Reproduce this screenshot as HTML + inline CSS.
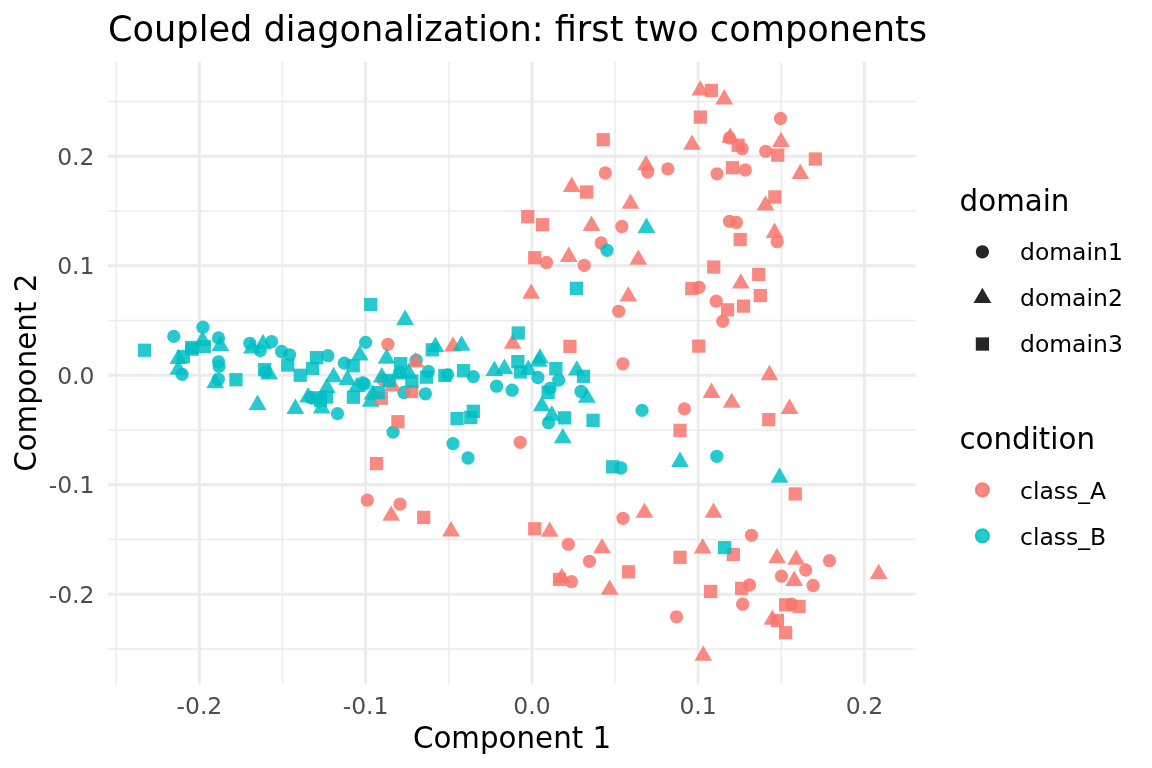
<!DOCTYPE html>
<html lang="en"><head><meta charset="utf-8"><title>Coupled diagonalization: first two components</title>
<style>html,body{margin:0;padding:0;background:#fff;}body{width:1152px;height:768px;overflow:hidden;}svg{display:block;}text{font-family:"DejaVu Sans", "Liberation Sans", sans-serif;}</style></head><body>
<svg width="1152" height="768" viewBox="0 0 1152 768">
<rect width="1152" height="768" fill="#ffffff"/>
<g><line x1="108.00" x2="915.60" y1="649.00" y2="649.00" stroke="#ebebeb" stroke-width="1.42"/><line x1="108.00" x2="915.60" y1="539.50" y2="539.50" stroke="#ebebeb" stroke-width="1.42"/><line x1="108.00" x2="915.60" y1="430.00" y2="430.00" stroke="#ebebeb" stroke-width="1.42"/><line x1="108.00" x2="915.60" y1="320.50" y2="320.50" stroke="#ebebeb" stroke-width="1.42"/><line x1="108.00" x2="915.60" y1="211.00" y2="211.00" stroke="#ebebeb" stroke-width="1.42"/><line x1="108.00" x2="915.60" y1="101.50" y2="101.50" stroke="#ebebeb" stroke-width="1.42"/><line x1="116.27" x2="116.27" y1="62.00" y2="683.80" stroke="#ebebeb" stroke-width="1.42"/><line x1="282.52" x2="282.52" y1="62.00" y2="683.80" stroke="#ebebeb" stroke-width="1.42"/><line x1="448.77" x2="448.77" y1="62.00" y2="683.80" stroke="#ebebeb" stroke-width="1.42"/><line x1="615.02" x2="615.02" y1="62.00" y2="683.80" stroke="#ebebeb" stroke-width="1.42"/><line x1="781.27" x2="781.27" y1="62.00" y2="683.80" stroke="#ebebeb" stroke-width="1.42"/><line x1="108.00" x2="915.60" y1="594.25" y2="594.25" stroke="#ebebeb" stroke-width="2.85"/><line x1="108.00" x2="915.60" y1="484.75" y2="484.75" stroke="#ebebeb" stroke-width="2.85"/><line x1="108.00" x2="915.60" y1="375.25" y2="375.25" stroke="#ebebeb" stroke-width="2.85"/><line x1="108.00" x2="915.60" y1="265.75" y2="265.75" stroke="#ebebeb" stroke-width="2.85"/><line x1="108.00" x2="915.60" y1="156.25" y2="156.25" stroke="#ebebeb" stroke-width="2.85"/><line x1="199.40" x2="199.40" y1="62.00" y2="683.80" stroke="#ebebeb" stroke-width="2.85"/><line x1="365.65" x2="365.65" y1="62.00" y2="683.80" stroke="#ebebeb" stroke-width="2.85"/><line x1="531.90" x2="531.90" y1="62.00" y2="683.80" stroke="#ebebeb" stroke-width="2.85"/><line x1="698.15" x2="698.15" y1="62.00" y2="683.80" stroke="#ebebeb" stroke-width="2.85"/><line x1="864.40" x2="864.40" y1="62.00" y2="683.80" stroke="#ebebeb" stroke-width="2.85"/></g>
<g><circle cx="780.5" cy="118.5" r="6.63" fill="#F8766D" fill-opacity="0.85"/><circle cx="729.5" cy="138.0" r="6.63" fill="#F8766D" fill-opacity="0.85"/><circle cx="742.2" cy="148.7" r="6.63" fill="#F8766D" fill-opacity="0.85"/><circle cx="765.7" cy="151.3" r="6.63" fill="#F8766D" fill-opacity="0.85"/><circle cx="647.7" cy="172.1" r="6.63" fill="#F8766D" fill-opacity="0.85"/><circle cx="667.9" cy="168.9" r="6.63" fill="#F8766D" fill-opacity="0.85"/><circle cx="717.0" cy="173.8" r="6.63" fill="#F8766D" fill-opacity="0.85"/><circle cx="745.3" cy="170.0" r="6.63" fill="#F8766D" fill-opacity="0.85"/><circle cx="605.3" cy="173.0" r="6.63" fill="#F8766D" fill-opacity="0.85"/><circle cx="621.8" cy="226.5" r="6.63" fill="#F8766D" fill-opacity="0.85"/><circle cx="601.2" cy="243.0" r="6.63" fill="#F8766D" fill-opacity="0.85"/><circle cx="546.5" cy="262.5" r="6.63" fill="#F8766D" fill-opacity="0.85"/><circle cx="584.2" cy="265.3" r="6.63" fill="#F8766D" fill-opacity="0.85"/><circle cx="618.7" cy="311.3" r="6.63" fill="#F8766D" fill-opacity="0.85"/><circle cx="729.5" cy="221.3" r="6.63" fill="#F8766D" fill-opacity="0.85"/><circle cx="736.5" cy="222.5" r="6.63" fill="#F8766D" fill-opacity="0.85"/><circle cx="777.2" cy="241.7" r="6.63" fill="#F8766D" fill-opacity="0.85"/><circle cx="699.0" cy="287.3" r="6.63" fill="#F8766D" fill-opacity="0.85"/><circle cx="716.2" cy="301.2" r="6.63" fill="#F8766D" fill-opacity="0.85"/><circle cx="722.8" cy="321.3" r="6.63" fill="#F8766D" fill-opacity="0.85"/><circle cx="684.4" cy="408.9" r="6.63" fill="#F8766D" fill-opacity="0.85"/><circle cx="622.9" cy="363.8" r="6.63" fill="#F8766D" fill-opacity="0.85"/><circle cx="751.5" cy="535.3" r="6.63" fill="#F8766D" fill-opacity="0.85"/><circle cx="829.5" cy="560.7" r="6.63" fill="#F8766D" fill-opacity="0.85"/><circle cx="805.7" cy="570.0" r="6.63" fill="#F8766D" fill-opacity="0.85"/><circle cx="781.5" cy="576.2" r="6.63" fill="#F8766D" fill-opacity="0.85"/><circle cx="813.1" cy="585.5" r="6.63" fill="#F8766D" fill-opacity="0.85"/><circle cx="749.5" cy="585.0" r="6.63" fill="#F8766D" fill-opacity="0.85"/><circle cx="742.7" cy="604.2" r="6.63" fill="#F8766D" fill-opacity="0.85"/><circle cx="791.7" cy="604.2" r="6.63" fill="#F8766D" fill-opacity="0.85"/><circle cx="676.5" cy="616.8" r="6.63" fill="#F8766D" fill-opacity="0.85"/><circle cx="623.0" cy="518.3" r="6.63" fill="#F8766D" fill-opacity="0.85"/><circle cx="568.3" cy="544.3" r="6.63" fill="#F8766D" fill-opacity="0.85"/><circle cx="589.5" cy="561.3" r="6.63" fill="#F8766D" fill-opacity="0.85"/><circle cx="571.5" cy="581.7" r="6.63" fill="#F8766D" fill-opacity="0.85"/><circle cx="520.2" cy="442.3" r="6.63" fill="#F8766D" fill-opacity="0.85"/><circle cx="367.3" cy="500.2" r="6.63" fill="#F8766D" fill-opacity="0.85"/><circle cx="400.0" cy="504.2" r="6.63" fill="#F8766D" fill-opacity="0.85"/><circle cx="387.9" cy="344.3" r="6.63" fill="#F8766D" fill-opacity="0.85"/><circle cx="383.1" cy="379.8" r="6.63" fill="#F8766D" fill-opacity="0.85"/><circle cx="607.0" cy="250.3" r="6.63" fill="#00BFC4" fill-opacity="0.85"/><circle cx="716.8" cy="456.3" r="6.63" fill="#00BFC4" fill-opacity="0.85"/><circle cx="393.1" cy="432.1" r="6.63" fill="#00BFC4" fill-opacity="0.85"/><circle cx="453.0" cy="443.6" r="6.63" fill="#00BFC4" fill-opacity="0.85"/><circle cx="468.0" cy="458.0" r="6.63" fill="#00BFC4" fill-opacity="0.85"/><circle cx="620.9" cy="468.0" r="6.63" fill="#00BFC4" fill-opacity="0.85"/><circle cx="642.0" cy="410.4" r="6.63" fill="#00BFC4" fill-opacity="0.85"/><circle cx="173.8" cy="336.4" r="6.63" fill="#00BFC4" fill-opacity="0.85"/><circle cx="202.9" cy="327.2" r="6.63" fill="#00BFC4" fill-opacity="0.85"/><circle cx="182.1" cy="374.3" r="6.63" fill="#00BFC4" fill-opacity="0.85"/><circle cx="218.5" cy="337.9" r="6.63" fill="#00BFC4" fill-opacity="0.85"/><circle cx="218.5" cy="361.8" r="6.63" fill="#00BFC4" fill-opacity="0.85"/><circle cx="219.1" cy="366.4" r="6.63" fill="#00BFC4" fill-opacity="0.85"/><circle cx="218.3" cy="379.3" r="6.63" fill="#00BFC4" fill-opacity="0.85"/><circle cx="249.8" cy="343.3" r="6.63" fill="#00BFC4" fill-opacity="0.85"/><circle cx="260.2" cy="350.6" r="6.63" fill="#00BFC4" fill-opacity="0.85"/><circle cx="271.7" cy="341.6" r="6.63" fill="#00BFC4" fill-opacity="0.85"/><circle cx="281.6" cy="351.5" r="6.63" fill="#00BFC4" fill-opacity="0.85"/><circle cx="289.6" cy="354.8" r="6.63" fill="#00BFC4" fill-opacity="0.85"/><circle cx="327.9" cy="355.7" r="6.63" fill="#00BFC4" fill-opacity="0.85"/><circle cx="344.3" cy="363.1" r="6.63" fill="#00BFC4" fill-opacity="0.85"/><circle cx="265.6" cy="372.2" r="6.63" fill="#00BFC4" fill-opacity="0.85"/><circle cx="310.8" cy="397.7" r="6.63" fill="#00BFC4" fill-opacity="0.85"/><circle cx="337.5" cy="413.6" r="6.63" fill="#00BFC4" fill-opacity="0.85"/><circle cx="365.6" cy="342.4" r="6.63" fill="#00BFC4" fill-opacity="0.85"/><circle cx="362.6" cy="383.0" r="6.63" fill="#00BFC4" fill-opacity="0.85"/><circle cx="364.4" cy="384.0" r="6.63" fill="#00BFC4" fill-opacity="0.85"/><circle cx="416.2" cy="360.2" r="6.63" fill="#00BFC4" fill-opacity="0.85"/><circle cx="428.4" cy="371.5" r="6.63" fill="#00BFC4" fill-opacity="0.85"/><circle cx="447.6" cy="374.8" r="6.63" fill="#00BFC4" fill-opacity="0.85"/><circle cx="425.4" cy="393.8" r="6.63" fill="#00BFC4" fill-opacity="0.85"/><circle cx="403.9" cy="392.5" r="6.63" fill="#00BFC4" fill-opacity="0.85"/><circle cx="399.8" cy="372.2" r="6.63" fill="#00BFC4" fill-opacity="0.85"/><circle cx="473.3" cy="376.6" r="6.63" fill="#00BFC4" fill-opacity="0.85"/><circle cx="537.9" cy="377.5" r="6.63" fill="#00BFC4" fill-opacity="0.85"/><circle cx="558.7" cy="380.1" r="6.63" fill="#00BFC4" fill-opacity="0.85"/><circle cx="550.1" cy="388.3" r="6.63" fill="#00BFC4" fill-opacity="0.85"/><circle cx="496.6" cy="386.2" r="6.63" fill="#00BFC4" fill-opacity="0.85"/><circle cx="512.1" cy="390.2" r="6.63" fill="#00BFC4" fill-opacity="0.85"/><circle cx="581.0" cy="391.5" r="6.63" fill="#00BFC4" fill-opacity="0.85"/><circle cx="548.5" cy="422.7" r="6.63" fill="#00BFC4" fill-opacity="0.85"/><polygon points="700.3,80.2 709.2,95.6 691.4,95.6" fill="#F8766D" fill-opacity="0.85"/><polygon points="724.2,89.0 733.1,104.4 715.3,104.4" fill="#F8766D" fill-opacity="0.85"/><polygon points="692.0,134.4 700.9,149.8 683.1,149.8" fill="#F8766D" fill-opacity="0.85"/><polygon points="730.2,127.4 739.1,142.8 721.3,142.8" fill="#F8766D" fill-opacity="0.85"/><polygon points="781.0,131.7 789.9,147.1 772.1,147.1" fill="#F8766D" fill-opacity="0.85"/><polygon points="800.3,163.5 809.2,178.9 791.4,178.9" fill="#F8766D" fill-opacity="0.85"/><polygon points="646.0,154.9 654.9,170.3 637.1,170.3" fill="#F8766D" fill-opacity="0.85"/><polygon points="571.7,176.5 580.6,191.9 562.8,191.9" fill="#F8766D" fill-opacity="0.85"/><polygon points="630.5,193.4 639.4,208.8 621.6,208.8" fill="#F8766D" fill-opacity="0.85"/><polygon points="591.5,215.6 600.4,231.0 582.6,231.0" fill="#F8766D" fill-opacity="0.85"/><polygon points="638.3,249.4 647.2,264.8 629.4,264.8" fill="#F8766D" fill-opacity="0.85"/><polygon points="568.8,246.5 577.7,261.9 559.9,261.9" fill="#F8766D" fill-opacity="0.85"/><polygon points="531.2,283.4 540.1,298.8 522.3,298.8" fill="#F8766D" fill-opacity="0.85"/><polygon points="628.3,286.2 637.2,301.6 619.4,301.6" fill="#F8766D" fill-opacity="0.85"/><polygon points="512.7,333.4 521.6,348.8 503.8,348.8" fill="#F8766D" fill-opacity="0.85"/><polygon points="765.5,195.2 774.4,210.6 756.6,210.6" fill="#F8766D" fill-opacity="0.85"/><polygon points="774.5,222.5 783.4,237.9 765.6,237.9" fill="#F8766D" fill-opacity="0.85"/><polygon points="740.8,273.2 749.7,288.6 731.9,288.6" fill="#F8766D" fill-opacity="0.85"/><polygon points="769.5,364.8 778.4,380.2 760.6,380.2" fill="#F8766D" fill-opacity="0.85"/><polygon points="711.5,382.5 720.4,397.9 702.6,397.9" fill="#F8766D" fill-opacity="0.85"/><polygon points="731.7,392.4 740.6,407.8 722.8,407.8" fill="#F8766D" fill-opacity="0.85"/><polygon points="789.5,398.6 798.4,414.0 780.6,414.0" fill="#F8766D" fill-opacity="0.85"/><polygon points="713.5,502.4 722.4,517.8 704.6,517.8" fill="#F8766D" fill-opacity="0.85"/><polygon points="702.7,538.0 711.6,553.4 693.8,553.4" fill="#F8766D" fill-opacity="0.85"/><polygon points="777.0,547.9 785.9,563.3 768.1,563.3" fill="#F8766D" fill-opacity="0.85"/><polygon points="796.2,549.4 805.1,564.8 787.3,564.8" fill="#F8766D" fill-opacity="0.85"/><polygon points="794.2,570.5 803.1,585.9 785.3,585.9" fill="#F8766D" fill-opacity="0.85"/><polygon points="878.7,563.7 887.6,579.1 869.8,579.1" fill="#F8766D" fill-opacity="0.85"/><polygon points="772.4,609.4 781.3,624.8 763.5,624.8" fill="#F8766D" fill-opacity="0.85"/><polygon points="703.3,645.4 712.2,660.8 694.4,660.8" fill="#F8766D" fill-opacity="0.85"/><polygon points="644.5,502.4 653.4,517.8 635.6,517.8" fill="#F8766D" fill-opacity="0.85"/><polygon points="549.7,521.4 558.6,536.8 540.8,536.8" fill="#F8766D" fill-opacity="0.85"/><polygon points="602.0,537.9 610.9,553.3 593.1,553.3" fill="#F8766D" fill-opacity="0.85"/><polygon points="561.8,567.7 570.7,583.1 552.9,583.1" fill="#F8766D" fill-opacity="0.85"/><polygon points="609.7,579.4 618.6,594.8 600.8,594.8" fill="#F8766D" fill-opacity="0.85"/><polygon points="391.2,505.4 400.1,520.8 382.3,520.8" fill="#F8766D" fill-opacity="0.85"/><polygon points="451.0,521.0 459.9,536.4 442.1,536.4" fill="#F8766D" fill-opacity="0.85"/><polygon points="415.7,352.0 424.6,367.4 406.8,367.4" fill="#F8766D" fill-opacity="0.85"/><polygon points="453.0,336.2 461.9,351.6 444.1,351.6" fill="#F8766D" fill-opacity="0.85"/><polygon points="392.6,376.2 401.5,391.6 383.7,391.6" fill="#F8766D" fill-opacity="0.85"/><polygon points="646.5,217.5 655.4,232.9 637.6,232.9" fill="#00BFC4" fill-opacity="0.85"/><polygon points="540.0,348.2 548.9,363.6 531.1,363.6" fill="#00BFC4" fill-opacity="0.85"/><polygon points="538.8,351.3 547.7,366.7 529.9,366.7" fill="#00BFC4" fill-opacity="0.85"/><polygon points="680.0,451.6 688.9,467.0 671.1,467.0" fill="#00BFC4" fill-opacity="0.85"/><polygon points="779.5,467.4 788.4,482.8 770.6,482.8" fill="#00BFC4" fill-opacity="0.85"/><polygon points="202.6,330.6 211.5,346.0 193.7,346.0" fill="#00BFC4" fill-opacity="0.85"/><polygon points="178.4,348.7 187.3,364.1 169.5,364.1" fill="#00BFC4" fill-opacity="0.85"/><polygon points="178.3,359.3 187.2,374.7 169.4,374.7" fill="#00BFC4" fill-opacity="0.85"/><polygon points="220.4,335.5 229.3,350.9 211.5,350.9" fill="#00BFC4" fill-opacity="0.85"/><polygon points="215.2,372.8 224.1,388.2 206.3,388.2" fill="#00BFC4" fill-opacity="0.85"/><polygon points="251.9,338.2 260.8,353.6 243.0,353.6" fill="#00BFC4" fill-opacity="0.85"/><polygon points="263.0,333.8 271.9,349.2 254.1,349.2" fill="#00BFC4" fill-opacity="0.85"/><polygon points="269.2,364.2 278.1,379.6 260.3,379.6" fill="#00BFC4" fill-opacity="0.85"/><polygon points="333.6,366.8 342.5,382.2 324.7,382.2" fill="#00BFC4" fill-opacity="0.85"/><polygon points="326.9,377.8 335.8,393.2 318.0,393.2" fill="#00BFC4" fill-opacity="0.85"/><polygon points="347.4,369.5 356.3,384.9 338.5,384.9" fill="#00BFC4" fill-opacity="0.85"/><polygon points="308.1,387.1 317.0,402.5 299.2,402.5" fill="#00BFC4" fill-opacity="0.85"/><polygon points="257.6,394.5 266.5,409.9 248.7,409.9" fill="#00BFC4" fill-opacity="0.85"/><polygon points="295.4,398.5 304.3,413.9 286.5,413.9" fill="#00BFC4" fill-opacity="0.85"/><polygon points="321.7,398.2 330.6,413.6 312.8,413.6" fill="#00BFC4" fill-opacity="0.85"/><polygon points="359.7,345.0 368.6,360.4 350.8,360.4" fill="#00BFC4" fill-opacity="0.85"/><polygon points="356.9,376.7 365.8,392.1 348.0,392.1" fill="#00BFC4" fill-opacity="0.85"/><polygon points="386.6,348.3 395.5,363.7 377.7,363.7" fill="#00BFC4" fill-opacity="0.85"/><polygon points="435.4,336.6 444.3,352.0 426.4,352.0" fill="#00BFC4" fill-opacity="0.85"/><polygon points="408.6,363.1 417.5,378.5 399.7,378.5" fill="#00BFC4" fill-opacity="0.85"/><polygon points="398.2,364.0 407.1,379.4 389.3,379.4" fill="#00BFC4" fill-opacity="0.85"/><polygon points="381.8,367.1 390.7,382.5 372.9,382.5" fill="#00BFC4" fill-opacity="0.85"/><polygon points="372.5,384.4 381.4,399.8 363.6,399.8" fill="#00BFC4" fill-opacity="0.85"/><polygon points="370.8,391.4 379.7,406.8 361.8,406.8" fill="#00BFC4" fill-opacity="0.85"/><polygon points="461.6,335.3 470.5,350.7 452.7,350.7" fill="#00BFC4" fill-opacity="0.85"/><polygon points="494.4,360.5 503.3,375.9 485.5,375.9" fill="#00BFC4" fill-opacity="0.85"/><polygon points="504.4,358.5 513.3,373.9 495.5,373.9" fill="#00BFC4" fill-opacity="0.85"/><polygon points="528.3,359.5 537.2,374.9 519.4,374.9" fill="#00BFC4" fill-opacity="0.85"/><polygon points="576.8,360.2 585.7,375.6 567.9,375.6" fill="#00BFC4" fill-opacity="0.85"/><polygon points="586.8,387.4 595.7,402.8 577.9,402.8" fill="#00BFC4" fill-opacity="0.85"/><polygon points="541.8,395.8 550.7,411.2 532.9,411.2" fill="#00BFC4" fill-opacity="0.85"/><polygon points="551.8,405.3 560.7,420.7 542.9,420.7" fill="#00BFC4" fill-opacity="0.85"/><polygon points="562.8,427.9 571.7,443.3 553.9,443.3" fill="#00BFC4" fill-opacity="0.85"/><polygon points="405.1,309.6 414.0,325.0 396.2,325.0" fill="#00BFC4" fill-opacity="0.85"/><rect x="704.8" y="83.8" width="13.27" height="13.27" fill="#F8766D" fill-opacity="0.85"/><rect x="693.7" y="110.5" width="13.27" height="13.27" fill="#F8766D" fill-opacity="0.85"/><rect x="731.5" y="138.6" width="13.27" height="13.27" fill="#F8766D" fill-opacity="0.85"/><rect x="771.1" y="148.5" width="13.27" height="13.27" fill="#F8766D" fill-opacity="0.85"/><rect x="808.7" y="152.4" width="13.27" height="13.27" fill="#F8766D" fill-opacity="0.85"/><rect x="725.9" y="161.1" width="13.27" height="13.27" fill="#F8766D" fill-opacity="0.85"/><rect x="768.2" y="190.3" width="13.27" height="13.27" fill="#F8766D" fill-opacity="0.85"/><rect x="596.6" y="133.1" width="13.27" height="13.27" fill="#F8766D" fill-opacity="0.85"/><rect x="580.0" y="185.4" width="13.27" height="13.27" fill="#F8766D" fill-opacity="0.85"/><rect x="521.1" y="210.0" width="13.27" height="13.27" fill="#F8766D" fill-opacity="0.85"/><rect x="535.9" y="218.1" width="13.27" height="13.27" fill="#F8766D" fill-opacity="0.85"/><rect x="528.1" y="251.1" width="13.27" height="13.27" fill="#F8766D" fill-opacity="0.85"/><rect x="563.3" y="339.7" width="13.27" height="13.27" fill="#F8766D" fill-opacity="0.85"/><rect x="733.6" y="232.9" width="13.27" height="13.27" fill="#F8766D" fill-opacity="0.85"/><rect x="707.1" y="260.4" width="13.27" height="13.27" fill="#F8766D" fill-opacity="0.85"/><rect x="752.1" y="267.8" width="13.27" height="13.27" fill="#F8766D" fill-opacity="0.85"/><rect x="685.2" y="281.9" width="13.27" height="13.27" fill="#F8766D" fill-opacity="0.85"/><rect x="753.7" y="288.9" width="13.27" height="13.27" fill="#F8766D" fill-opacity="0.85"/><rect x="720.9" y="303.2" width="13.27" height="13.27" fill="#F8766D" fill-opacity="0.85"/><rect x="736.9" y="299.5" width="13.27" height="13.27" fill="#F8766D" fill-opacity="0.85"/><rect x="692.1" y="339.5" width="13.27" height="13.27" fill="#F8766D" fill-opacity="0.85"/><rect x="762.1" y="413.0" width="13.27" height="13.27" fill="#F8766D" fill-opacity="0.85"/><rect x="673.4" y="423.7" width="13.27" height="13.27" fill="#F8766D" fill-opacity="0.85"/><rect x="788.6" y="487.3" width="13.27" height="13.27" fill="#F8766D" fill-opacity="0.85"/><rect x="726.7" y="547.8" width="13.27" height="13.27" fill="#F8766D" fill-opacity="0.85"/><rect x="673.4" y="550.7" width="13.27" height="13.27" fill="#F8766D" fill-opacity="0.85"/><rect x="703.9" y="584.8" width="13.27" height="13.27" fill="#F8766D" fill-opacity="0.85"/><rect x="735.0" y="581.7" width="13.27" height="13.27" fill="#F8766D" fill-opacity="0.85"/><rect x="779.0" y="598.2" width="13.27" height="13.27" fill="#F8766D" fill-opacity="0.85"/><rect x="792.4" y="599.8" width="13.27" height="13.27" fill="#F8766D" fill-opacity="0.85"/><rect x="770.8" y="613.9" width="13.27" height="13.27" fill="#F8766D" fill-opacity="0.85"/><rect x="779.0" y="626.1" width="13.27" height="13.27" fill="#F8766D" fill-opacity="0.85"/><rect x="621.9" y="565.2" width="13.27" height="13.27" fill="#F8766D" fill-opacity="0.85"/><rect x="528.1" y="522.2" width="13.27" height="13.27" fill="#F8766D" fill-opacity="0.85"/><rect x="552.9" y="572.7" width="13.27" height="13.27" fill="#F8766D" fill-opacity="0.85"/><rect x="369.9" y="457.0" width="13.27" height="13.27" fill="#F8766D" fill-opacity="0.85"/><rect x="417.1" y="510.8" width="13.27" height="13.27" fill="#F8766D" fill-opacity="0.85"/><rect x="405.1" y="384.9" width="13.27" height="13.27" fill="#F8766D" fill-opacity="0.85"/><rect x="374.7" y="391.6" width="13.27" height="13.27" fill="#F8766D" fill-opacity="0.85"/><rect x="391.3" y="415.1" width="13.27" height="13.27" fill="#F8766D" fill-opacity="0.85"/><rect x="569.8" y="281.7" width="13.27" height="13.27" fill="#00BFC4" fill-opacity="0.85"/><rect x="511.6" y="326.4" width="13.27" height="13.27" fill="#00BFC4" fill-opacity="0.85"/><rect x="511.2" y="355.0" width="13.27" height="13.27" fill="#00BFC4" fill-opacity="0.85"/><rect x="718.0" y="541.0" width="13.27" height="13.27" fill="#00BFC4" fill-opacity="0.85"/><rect x="606.0" y="460.2" width="13.27" height="13.27" fill="#00BFC4" fill-opacity="0.85"/><rect x="137.9" y="343.6" width="13.27" height="13.27" fill="#00BFC4" fill-opacity="0.85"/><rect x="185.1" y="340.9" width="13.27" height="13.27" fill="#00BFC4" fill-opacity="0.85"/><rect x="185.4" y="342.5" width="13.27" height="13.27" fill="#00BFC4" fill-opacity="0.85"/><rect x="197.6" y="340.0" width="13.27" height="13.27" fill="#00BFC4" fill-opacity="0.85"/><rect x="176.8" y="350.0" width="13.27" height="13.27" fill="#00BFC4" fill-opacity="0.85"/><rect x="229.3" y="373.1" width="13.27" height="13.27" fill="#00BFC4" fill-opacity="0.85"/><rect x="281.1" y="358.4" width="13.27" height="13.27" fill="#00BFC4" fill-opacity="0.85"/><rect x="293.6" y="368.6" width="13.27" height="13.27" fill="#00BFC4" fill-opacity="0.85"/><rect x="306.0" y="361.9" width="13.27" height="13.27" fill="#00BFC4" fill-opacity="0.85"/><rect x="309.8" y="351.0" width="13.27" height="13.27" fill="#00BFC4" fill-opacity="0.85"/><rect x="258.0" y="363.0" width="13.27" height="13.27" fill="#00BFC4" fill-opacity="0.85"/><rect x="310.1" y="391.2" width="13.27" height="13.27" fill="#00BFC4" fill-opacity="0.85"/><rect x="314.0" y="393.7" width="13.27" height="13.27" fill="#00BFC4" fill-opacity="0.85"/><rect x="319.8" y="390.4" width="13.27" height="13.27" fill="#00BFC4" fill-opacity="0.85"/><rect x="346.8" y="390.6" width="13.27" height="13.27" fill="#00BFC4" fill-opacity="0.85"/><rect x="346.6" y="359.1" width="13.27" height="13.27" fill="#00BFC4" fill-opacity="0.85"/><rect x="394.0" y="357.0" width="13.27" height="13.27" fill="#00BFC4" fill-opacity="0.85"/><rect x="425.7" y="343.2" width="13.27" height="13.27" fill="#00BFC4" fill-opacity="0.85"/><rect x="419.9" y="370.5" width="13.27" height="13.27" fill="#00BFC4" fill-opacity="0.85"/><rect x="438.2" y="368.8" width="13.27" height="13.27" fill="#00BFC4" fill-opacity="0.85"/><rect x="405.2" y="374.6" width="13.27" height="13.27" fill="#00BFC4" fill-opacity="0.85"/><rect x="382.6" y="373.9" width="13.27" height="13.27" fill="#00BFC4" fill-opacity="0.85"/><rect x="371.6" y="386.0" width="13.27" height="13.27" fill="#00BFC4" fill-opacity="0.85"/><rect x="456.9" y="364.1" width="13.27" height="13.27" fill="#00BFC4" fill-opacity="0.85"/><rect x="513.9" y="365.3" width="13.27" height="13.27" fill="#00BFC4" fill-opacity="0.85"/><rect x="549.2" y="362.0" width="13.27" height="13.27" fill="#00BFC4" fill-opacity="0.85"/><rect x="541.5" y="385.7" width="13.27" height="13.27" fill="#00BFC4" fill-opacity="0.85"/><rect x="576.9" y="369.7" width="13.27" height="13.27" fill="#00BFC4" fill-opacity="0.85"/><rect x="557.9" y="411.2" width="13.27" height="13.27" fill="#00BFC4" fill-opacity="0.85"/><rect x="586.4" y="413.7" width="13.27" height="13.27" fill="#00BFC4" fill-opacity="0.85"/><rect x="450.4" y="411.9" width="13.27" height="13.27" fill="#00BFC4" fill-opacity="0.85"/><rect x="464.1" y="410.8" width="13.27" height="13.27" fill="#00BFC4" fill-opacity="0.85"/><rect x="466.7" y="404.7" width="13.27" height="13.27" fill="#00BFC4" fill-opacity="0.85"/><rect x="364.1" y="297.9" width="13.27" height="13.27" fill="#00BFC4" fill-opacity="0.85"/></g>
<text x="108" y="41.25" font-size="35.16" fill="#000">Coupled diagonalization: first two components</text>
<text x="199.4" y="714" font-size="23.47" fill="#4d4d4d" text-anchor="middle">-0.2</text>
<text x="94.5" y="602.8" font-size="23.47" fill="#4d4d4d" text-anchor="end">-0.2</text>
<text x="365.6" y="714" font-size="23.47" fill="#4d4d4d" text-anchor="middle">-0.1</text>
<text x="94.5" y="493.2" font-size="23.47" fill="#4d4d4d" text-anchor="end">-0.1</text>
<text x="531.9" y="714" font-size="23.47" fill="#4d4d4d" text-anchor="middle">0.0</text>
<text x="94.5" y="383.8" font-size="23.47" fill="#4d4d4d" text-anchor="end">0.0</text>
<text x="698.1" y="714" font-size="23.47" fill="#4d4d4d" text-anchor="middle">0.1</text>
<text x="94.5" y="274.2" font-size="23.47" fill="#4d4d4d" text-anchor="end">0.1</text>
<text x="864.4" y="714" font-size="23.47" fill="#4d4d4d" text-anchor="middle">0.2</text>
<text x="94.5" y="164.8" font-size="23.47" fill="#4d4d4d" text-anchor="end">0.2</text>
<text x="512.1" y="747.6" font-size="29.33" fill="#000" text-anchor="middle">Component 1</text>
<text transform="translate(36.1,372.7) rotate(-90)" font-size="29.33" fill="#000" text-anchor="middle">Component 2</text>
<text x="959.6" y="210.8" font-size="29.33" fill="#000">domain</text>
<text x="1020" y="260.0" font-size="23.47" fill="#000">domain1</text>
<text x="1020" y="306.0" font-size="23.47" fill="#000">domain2</text>
<text x="1020" y="352.0" font-size="23.47" fill="#000">domain3</text>
<circle cx="982.4" cy="251.8" r="6.63" fill="#000" fill-opacity="0.85"/>
<polygon points="982.4,287.7 991.3,303.1 973.5,303.1" fill="#000" fill-opacity="0.85"/>
<rect x="975.8" y="337.4" width="13.27" height="13.27" fill="#000" fill-opacity="0.85"/>
<text x="959.4" y="449" font-size="29.33" fill="#000">condition</text>
<text x="1020" y="498.5" font-size="23.47" fill="#000">class_A</text>
<text x="1020" y="544.5" font-size="23.47" fill="#000">class_B</text>
<circle cx="982.4" cy="489.9" r="6.635" fill="#F8766D" fill-opacity="0.85" stroke="#F8766D" stroke-opacity="0.85" stroke-width="1.89"/>
<circle cx="982.4" cy="535.9" r="6.635" fill="#00BFC4" fill-opacity="0.85" stroke="#00BFC4" stroke-opacity="0.85" stroke-width="1.89"/>
</svg></body></html>
